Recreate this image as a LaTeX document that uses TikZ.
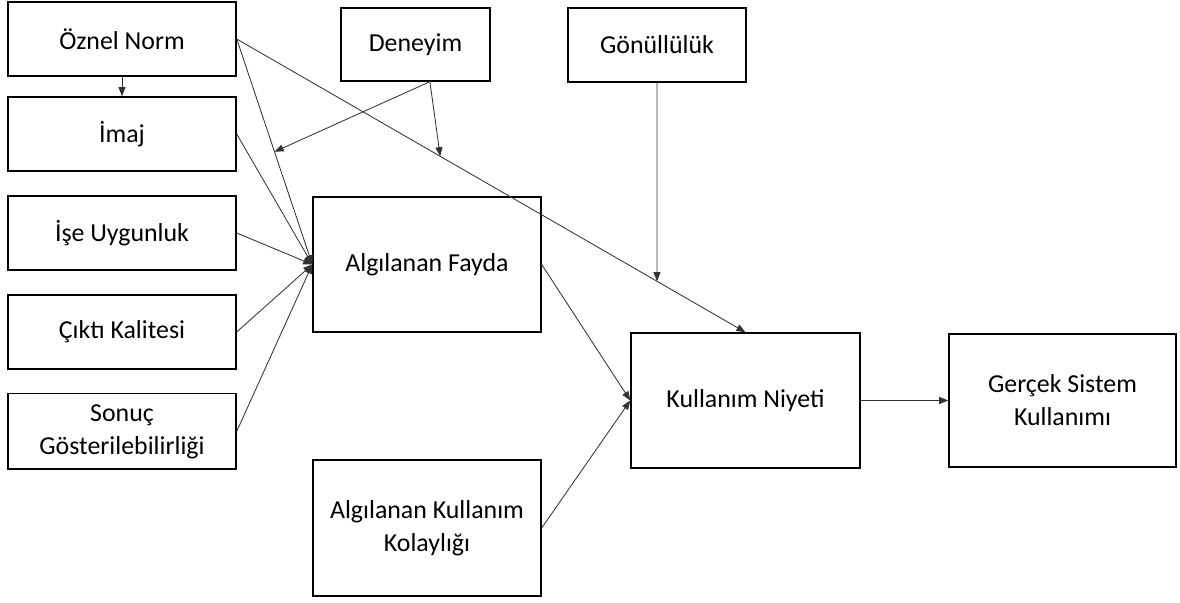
\documentclass[tikz,border=0pt]{standalone}
\usepackage{fontspec}
\setmainfont{Carlito}
\usetikzlibrary{arrows.meta,calc}

\begin{document}
\begin{tikzpicture}[
  box/.style={draw, rectangle, line width=1pt, minimum width=5.7cm, minimum height=1.85cm,
    align=center, inner sep=0pt, font=\fontsize{18.4}{23.4}\selectfont},
  link/.style={draw=black!80, line width=0.6pt, -{Triangle[length=6.5pt,width=5pt]}}
]

\useasboundingbox (0,0) rectangle (29.5,15.075);

% Left column of factors
\node[box] (oznel) at (3.05, 14.1) {Öznel Norm};
\node[box] (imaj) at (3.05, 11.725) {İmaj};
\node[box] (uygun) at (3.05, 9.25) {İşe Uygunluk};
\node[box] (cikti) at (3.05, 6.775) {Çıktı Kalitesi};
\node[box, minimum height=1.88cm] (sonuc) at (3.05, 4.29) {Sonuç\\Gösterilebilirliği};

% Moderators (top)
\node[box, minimum width=3.725cm, minimum height=1.825cm] (deneyim) at (10.3875, 13.9625) {Deneyim};
\node[box, minimum width=4.45cm] (gonul) at (16.425, 13.95) {Gönüllülük};

% Main constructs
\node[box, minimum height=3.375cm] (fayda) at (10.675, 8.4625) {Algılanan Fayda};
\node[box, minimum height=3.4cm] (kolay) at (10.675, 1.875) {Algılanan Kullanım\\Kolaylığı};
\node[box, minimum width=5.725cm, minimum height=3.375cm] (niyet) at (18.6375, 5.0625) {Kullanım Niyeti};
\node[box, minimum width=5.675cm, minimum height=3.325cm] (gercek) at (26.5625, 5.0625) {Gerçek Sistem\\Kullanımı};

% Points where the moderators meet the Öznel Norm paths
\coordinate (dsrc) at ([xshift=0.36cm]deneyim.south);
\coordinate (m1) at ($(oznel.east)!0.5!(fayda.west)$);
\coordinate (m2) at ($(oznel.east)!0.4!(niyet.north)$);
\coordinate (m3) at ($(oznel.east)!0.826!(niyet.north)$);

% Paths
\draw[link] (oznel.south) -- (imaj.north);
\draw[link] (oznel.east) -- (fayda.west);
\draw[link] (oznel.east) -- (niyet.north);
\foreach \src in {imaj,uygun,cikti,sonuc} {
  \draw[link] (\src.east) -- (fayda.west);
}
\draw[link] (dsrc) -- (m1);
\draw[link] (dsrc) -- (m2);
\draw[link] (gonul.south) -- (m3);
\draw[link] (fayda.east) -- (niyet.west);
\draw[link] (kolay.east) -- (niyet.west);
\draw[link] (niyet.east) -- (gercek.west);

\end{tikzpicture}
\end{document}
